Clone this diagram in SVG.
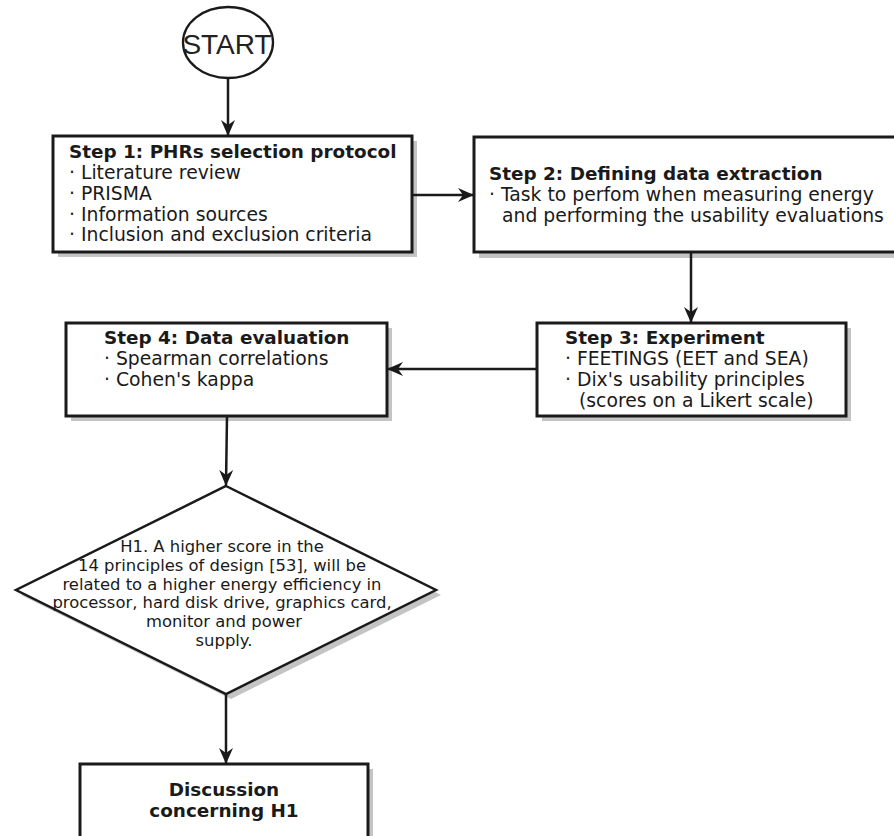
<svg xmlns="http://www.w3.org/2000/svg" width="894" height="836" viewBox="0 0 894 836">
<style>
.box{fill:#fff;stroke:#1a1a1a;stroke-width:3}
.sh{fill:#c4c4c4;stroke:none}
.t{font-family:"DejaVu Sans",Verdana,sans-serif;font-size:18.8px;fill:#1a1a1a}
.b{font-weight:bold;font-size:18.4px}
.d{font-family:"DejaVu Sans",Verdana,sans-serif;font-size:16.4px;fill:#1a1a1a;text-anchor:middle}
.c{fill:none;stroke:#1a1a1a;stroke-width:2.5}
</style>
<defs>
<marker id="ah" viewBox="0 0 16 16" refX="15" refY="8" markerWidth="16" markerHeight="16" markerUnits="userSpaceOnUse" orient="auto">
<path d="M0,1 L16,8 L0,15 L5,8 Z" fill="#1a1a1a"/>
</marker>
</defs>
<rect width="894" height="836" fill="#fff"/>
<g id="start">
<ellipse cx="228" cy="42.5" rx="45" ry="35.5" fill="#fff" stroke="#1a1a1a" stroke-width="2.3"/>
<text x="227" y="54" font-family="Liberation Sans,Arial,sans-serif" font-size="28" fill="#222" text-anchor="middle">START</text>
</g>
<g id="step1">
<rect class="sh" x="58" y="141" width="359" height="116"/>
<rect class="box" x="53" y="136" width="359" height="116"/>
<text class="t b" x="69" y="158">Step 1: PHRs selection protocol</text>
<text class="t" x="69" y="179">· Literature review</text>
<text class="t" x="69" y="200">· PRISMA</text>
<text class="t" x="69" y="220.5">· Information sources</text>
<text class="t" x="69" y="241">· Inclusion and exclusion criteria</text>
</g>
<g id="step2">
<rect class="sh" x="479" y="142" width="430" height="116"/>
<rect class="box" x="474" y="137" width="430" height="115"/>
<text class="t b" x="489" y="180">Step 2: Defining data extraction</text>
<text class="t" x="489" y="201">· Task to perfom when measuring energy</text>
<text class="t" x="502" y="222">and performing the usability evaluations</text>
</g>
<g id="step3">
<rect class="sh" x="542" y="328" width="309" height="93"/>
<rect class="box" x="537" y="323" width="309" height="93"/>
<text class="t b" x="565" y="344">Step 3: Experiment</text>
<text class="t" x="565" y="365">· FEETINGS (EET and SEA)</text>
<text class="t" x="565" y="386">· Dix's usability principles</text>
<text class="t" x="579" y="407">(scores on a Likert scale)</text>
</g>
<g id="step4">
<rect class="sh" x="71" y="328" width="321" height="93"/>
<rect class="box" x="66" y="323" width="321" height="93"/>
<text class="t b" x="104" y="344">Step 4: Data evaluation</text>
<text class="t" x="104" y="365">· Spearman correlations</text>
<text class="t" x="104" y="386">· Cohen's kappa</text>
</g>
<g id="h1">
<polygon class="sh" points="231,491 441,595 231,699 21,595"/>
<polygon points="226,486 436,590 226,694 16,590" fill="#fff" stroke="#1a1a1a" stroke-width="2.5" stroke-linejoin="miter"/>
<text class="d" x="222" y="552">H1. A higher score in the</text>
<text class="d" x="222" y="571">14 principles of design [53], will be</text>
<text class="d" x="222" y="589.5">related to a higher energy efficiency in</text>
<text class="d" x="222" y="608">processor, hard disk drive, graphics card,</text>
<text class="d" x="224" y="627">monitor and power</text>
<text class="d" x="224" y="645.5">supply.</text>
</g>
<g id="discussion">
<rect class="sh" x="85" y="769" width="288" height="80"/>
<rect class="box" x="80" y="764" width="288" height="80"/>
<text class="t b" x="224" y="796" text-anchor="middle">Discussion</text>
<text class="t b" x="224" y="817" text-anchor="middle">concerning H1</text>
</g>
<g id="connectors">
<line class="c" x1="228" y1="78" x2="228" y2="135" marker-end="url(#ah)"/>
<line class="c" x1="412" y1="195" x2="473" y2="195" marker-end="url(#ah)"/>
<line class="c" x1="691" y1="252" x2="691" y2="322" marker-end="url(#ah)"/>
<line class="c" x1="537" y1="369" x2="388" y2="369" marker-end="url(#ah)"/>
<line class="c" x1="227" y1="416" x2="226" y2="485" marker-end="url(#ah)"/>
<line class="c" x1="226" y1="694" x2="226" y2="763" marker-end="url(#ah)"/>
</g>
</svg>
